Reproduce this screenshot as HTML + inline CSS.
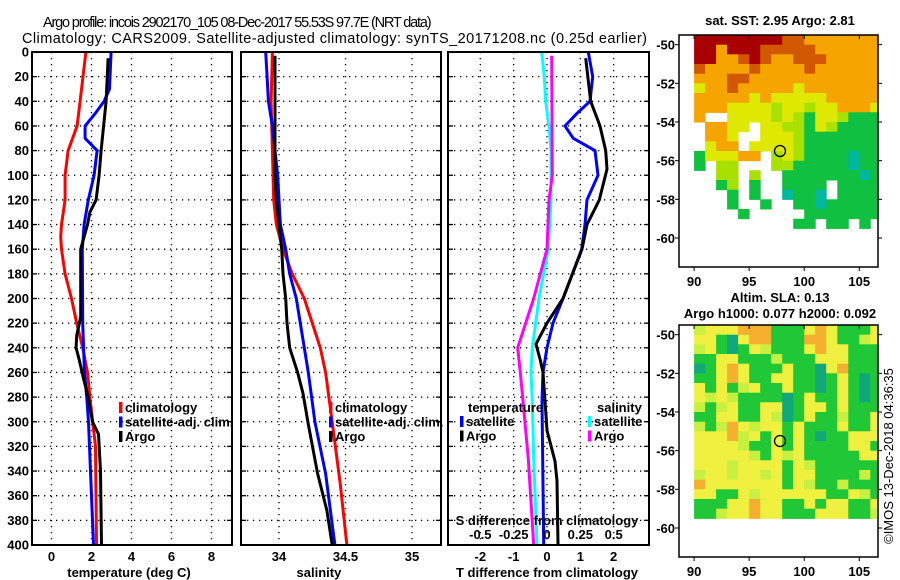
<!DOCTYPE html>
<html><head><meta charset="utf-8">
<style>
html,body{margin:0;padding:0;background:#fff;}
svg{display:block;font-family:"Liberation Sans",sans-serif;}
.t{font-size:13px;font-weight:bold;fill:#000;}
</style></head>
<body>
<svg id="fig" width="900" height="580" viewBox="0 0 900 580" xmlns="http://www.w3.org/2000/svg">
<rect width="900" height="580" fill="#fff"/>
<text x="43" y="27" font-size="14.5" letter-spacing="-1.17" fill="#000">Argo profile: incois 2902170_105 08-Dec-2017 55.53S 97.7E (NRT data)</text>
<text x="22" y="43" font-size="14.5" letter-spacing="0.43" fill="#000">Climatology: CARS2009. Satellite-adjusted climatology: synTS_20171208.nc (0.25d earlier)</text>
<g id="plots"></g>
</svg>
<script>
// ---------- data ----------
const depthTicks=[0,20,40,60,80,100,120,140,160,180,200,220,240,260,280,300,320,340,360,380,400];
const tempTicks=[0,2,4,6,8];
const salTicks=[34,34.5,35];
const tdiffTicks=[-2,-1,0,1,2];
const sdiffTicks=[-0.5,-0.25,0,0.25,0.5];
const sdiffLabels=["-0.5","-0.25","0","0.25","0.5"];

const climTD=[0,40,60,80,100,120,140,150,160,180,200,220,240,260,280,320,400];
const climT=[1.72,1.43,1.28,0.83,0.68,0.68,0.5,0.46,0.5,0.68,1.0,1.26,1.56,1.8,1.92,2.2,2.25];
const satTD=[0,30,40,50,60,70,80,100,120,140,160,220,260,280,300,400];
const satT=[2.98,2.9,2.63,2.18,1.68,1.68,2.28,2.13,1.84,1.63,1.54,1.56,1.65,1.76,1.85,2.1];
const argoTD=[5,40,80,100,120,130,140,160,215,230,240,250,265,280,300,310,340,400];
const argoT=[2.83,2.73,2.48,2.38,2.23,1.92,1.8,1.46,1.46,1.26,1.23,1.39,1.6,1.84,2.05,2.35,2.45,2.5];

const climSD=[0,40,80,120,140,160,180,200,220,240,260,300,350,400];
const climS=[33.95,33.94,33.95,33.96,33.98,34.03,34.1,34.19,34.25,34.31,34.35,34.4,34.46,34.51];
const satSD=[0,20,40,60,80,100,120,140,160,180,200,220,240,260,300,342,400];
const satS=[33.9,33.91,33.92,33.95,33.97,33.99,34.0,34.01,34.05,34.08,34.13,34.16,34.19,34.22,34.27,34.35,34.42];
const argoSD=[3,100,120,140,160,180,200,220,240,260,277,302,342,372,400];
const argoS=[33.97,33.97,33.98,34.0,34.02,34.03,34.05,34.06,34.08,34.14,34.18,34.22,34.29,34.36,34.4];

const dTsatD=[0,20,40,50,60,70,80,100,120,140,160,200,220,240,260,283,400];
const dTsat=[1.24,1.37,1.29,0.89,0.54,0.79,1.44,1.53,1.2,1.14,1.04,0.48,0.18,0,-0.12,-0.15,-0.1];
const dTargoD=[5,40,60,80,95,120,140,160,200,220,237,250,260,283,307,332,348,400];
const dTargo=[1.16,1.31,1.59,1.76,1.8,1.57,1.2,1.05,0.48,0,-0.33,-0.2,-0.12,-0.06,0,0.24,0.3,0.33];
const dSsatD=[0,20,40,60,80,120,140,160,200,240,260,283,330,400];
const dSsat=[-0.04,-0.02,-0.01,0.015,0.03,0.03,0.02,0.01,-0.06,-0.11,-0.12,-0.11,-0.1,-0.075];
const dSargoD=[3,100,120,160,180,200,220,240,260,283,330,400];
const dSargo=[0.035,0.04,0.015,0,-0.05,-0.1,-0.16,-0.22,-0.2,-0.18,-0.14,-0.1];

const lonTicks=[90,95,100,105];
const latTicks=[-50,-52,-54,-56,-58,-60];
const sstRows=[
"RRRRRRRROOooooooo",
"RRoRRROOOOOoooooo",
"RRooOROooOOOooooo",
"OooooOooooOoooooo",
"oooOOoooooooooooo",
"yooOoooooyooooooo",
"oooooyoyyyyyooooo",
"oooyyyygyygyyoooy",
"o..yyyygygGyygGGG",
".ooyy.yyggGygGGGG",
".ooy..yyygGGGGGGG",
".yoo.yyyygGGGGGGG",
"Gyyyoo.gygGGGGTGG",
"G.gg...ggGGGGGTGG",
"..gg.g..GGGGGGGTG",
"..Gg.G..GGGG.GGGG",
"...G.G..TGGT.GGGG",
"...G..G..GGTGGGGG",
"....G.....GGGGGGG",
".........GG.GG.G."];
const slaRows=[
"gyyyoooGGGyoyGGGy",
"yyGTyooGGGooyGGgy",
"gyGTGygGGGyoyyGGG",
"GGyyGGGgGGGyyyGGG",
"TGyoyGGGyGGTyoGGG",
"GGyoyGGyyGGTGyGTG",
"yGyGgyGGyGGTGyGTG",
"ygygGGGGTGyGGyGTG",
"gGgyGGyyTGyyGyGGG",
"GGyyGGygTGyGGgGGy",
"gGgoygyyGyGGGyGGy",
"yyyogyGyGyGTGGyyy",
"yyyygGGyGyGGGGyyG",
"yyyyygGygyGGGGGyy",
"yyygyyyyGygGGGGGG",
"gyygyygyGyyGGGGgG",
"oyyyyyyyGygGGgGGG",
"yyGGygyyyyyyGGygG",
"GGGyyoyyGGyGyyGGy",
"GGgyyoyyGGGyyyGGg"];
const argoLon=97.8, argoLat=-55.5;

// ---------- drawing ----------
const NS="http://www.w3.org/2000/svg";
const root=document.getElementById('plots');
function el(tag,attrs,parent){const e=document.createElementNS(NS,tag);for(const k in attrs)e.setAttribute(k,attrs[k]);(parent||root).appendChild(e);return e;}
function txt(s,x,y,anchor,cls,parent){const e=el('text',{x:x,y:y,'text-anchor':anchor||'middle','class':cls||'t'},parent);e.textContent=s;return e;}

const Y0=52,Y1=545;
function yD(d){return Y0+(Y1-Y0)*d/400;}

function panel(name,x0,x1,dmin,dmax){
  const g=el('g',{});
  
  
  return {g:g,x0:x0,x1:x1,sx:v=>x0+(x1-x0)*(v-dmin)/(dmax-dmin)};
}
function grid(p,xt){
  depthTicks.forEach(d=>{ if(d>0&&d<400){const l=el('line',{x1:p.x0,x2:p.x1,y1:yD(d),y2:yD(d),stroke:'#000','stroke-width':1.3,'stroke-dasharray':'1.3 4.7'},p.g);
    }
    el('line',{x1:p.x0,x2:p.x0+5,y1:yD(d),y2:yD(d),stroke:'#000','stroke-width':1.3},p.g);
    el('line',{x1:p.x1-5,x2:p.x1,y1:yD(d),y2:yD(d),stroke:'#000','stroke-width':1.3},p.g);});
  xt.forEach(v=>{const x=p.sx(v);const l=el('line',{x1:x,x2:x,y1:Y0,y2:Y1,stroke:'#000','stroke-width':1.3,'stroke-dasharray':'1.3 4.7'},p.g);
    });
}
function frame(p){const r=el('rect',{x:p.x0,y:Y0,width:p.x1-p.x0,height:Y1-Y0,fill:'none',stroke:'#000','stroke-width':2},p.g);
  }
function series(p,ds,vs,color,name,w){
  const pts=ds.map((d,i)=>p.sx(vs[i]).toFixed(1)+','+yD(d).toFixed(1)).join(' ');
  const l=el('polyline',{points:pts,fill:'none',stroke:color,'stroke-width':w||3,'stroke-linejoin':'round'},p.g);
  
}
function legend(p,x,y,items){
  items.forEach((it,i)=>{const yy=y+i*14.5;
    el('rect',{x:x,y:yy-10,width:3.5,height:11,fill:it[1]},p.g);
    const t=txt(it[0],x+6,yy,'start','t',p.g);
    });
}

const p1=panel('temperature-panel',32,232,-0.975,9.025);
grid(p1,tempTicks);
series(p1,climTD,climT,'#f00','climatology-temp-line');
series(p1,satTD,satT,'#00f','satellite-temp-line');
series(p1,argoTD,argoT,'#000','argo-temp-line');
frame(p1);
depthTicks.forEach(d=>{const t=txt(String(d),29,yD(d)+4.5,'end','t',p1.g);});
tempTicks.forEach(v=>{const t=txt(String(v),p1.sx(v),561,'middle','t',p1.g);});
{const t=txt('temperature (deg C)',129,577,'middle','t',p1.g);}
legend(p1,119,412,[['climatology','#f00'],['satellite-adj. clim.','#00f'],['Argo','#000']]);

const p2=panel('salinity-panel',241,441,33.714,35.218);
grid(p2,salTicks);
series(p2,climSD,climS,'#f00','climatology-sal-line');
series(p2,satSD,satS,'#00f','satellite-sal-line');
series(p2,argoSD,argoS,'#000','argo-sal-line');
legend(p2,329,412,[['climatology','#f00'],['satellite-adj. clim.','#00f'],['Argo','#000']]);
frame(p2);
salTicks.forEach(v=>{const t=txt(String(v),p2.sx(v),561,'middle','t',p2.g);});
{const t=txt('salinity',p2.sx(34.3),577,'middle','t',p2.g);}

const p3=panel('difference-panel',448,649,-2.97,3.06);
const sxS=v=>p3.sx(v*4);
grid(p3,tdiffTicks);
series(p3,dSsatD,dSsat.map(v=>v*4),'#0ff','salinity-satellite-diff-line');
series(p3,dSargoD,dSargo.map(v=>v*4),'#f0f','salinity-argo-diff-line');
series(p3,dTsatD,dTsat,'#00f','temp-satellite-diff-line');
series(p3,dTargoD,dTargo,'#000','temp-argo-diff-line');
frame(p3);
tdiffTicks.forEach(v=>{const t=txt(String(v),p3.sx(v),561,'middle','t',p3.g);});
sdiffTicks.forEach((v,i)=>{const t=txt(sdiffLabels[i],sxS(v),539,'middle','t',p3.g);});
{const t=txt('S difference from climatology',547,525,'middle','t',p3.g);}
{const t=txt('T difference from climatology',547,577,'middle','t',p3.g);}
{const t=txt('temperature',468,412,'start','t',p3.g);}
legend(p3,460,426,[['satellite','#00f'],['Argo','#000']]);
{const t=txt('salinity',597,412,'start','t',p3.g);}
legend(p3,588,426,[['satellite','#0ff'],['Argo','#f0f']]);

const sstCol={R:'#a80000',O:'#d25800',o:'#f5a400',y:'#dfe800',g:'#a8e000',G:'#10c040',T:'#00b8a0'};
const slaCol={o:'#f5b030',y:'#f0f040',g:'#c8f040',G:'#20c838',T:'#10a878'};
function map(name,top,bottom,rows,cols,title1,title2){
  const g=el('g',{});
  
  
  const x0=679,x1=878;
  const lonMin=88.63,lonMax=106.7;
  const latTopPx=top+ (bottom-top)*0.5/12;
  const pxPerLat=(bottom-top)/12;
  const sxm=lon=>x0+(x1-x0)*(lon-lonMin)/(lonMax-lonMin);
  const sym=lat=>latTopPx+(-50-lat)*pxPerLat;
  rows.forEach((r,ri)=>{for(let ci=0;ci<r.length;ci++){const c=r[ci];if(c==='.')continue;
    const lonA=90+ci, lonB=Math.min(91+ci,106.7);
    const latA=-49.5-ri*0.5;
    const cell=el('rect',{x:sxm(lonA).toFixed(1),y:sym(latA).toFixed(1),width:(sxm(lonB)-sxm(lonA)+0.5).toFixed(1),height:(pxPerLat*0.5+0.5).toFixed(1),fill:cols[c]},g);
    }});
  const fr=el('rect',{x:x0,y:top,width:x1-x0,height:bottom-top,fill:'none',stroke:'#000','stroke-width':1.5},g);
  
  lonTicks.forEach(v=>{const x=sxm(v);el('line',{x1:x,x2:x,y1:top,y2:top+4,stroke:'#000'},g);el('line',{x1:x,x2:x,y1:bottom,y2:bottom+4,stroke:'#000'},g);
    const t=txt(String(v),x,bottom+19,'middle','t',g);});
  latTicks.forEach(v=>{const y=sym(v);el('line',{x1:x0-4,x2:x0,y1:y,y2:y,stroke:'#000'},g);el('line',{x1:x1,x2:x1+4,y1:y,y2:y,stroke:'#000'},g);
    const t=txt(String(v),675,y+5,'end','t',g);});
  const c=el('circle',{cx:sxm(argoLon),cy:sym(argoLat),r:5.5,fill:'none',stroke:'#000','stroke-width':1.3},g);
  
  {const t=txt(title1,780,top-(title2?23:10),'middle','t',g);}
  if(title2){const t=txt(title2,780,top-7,'middle','t',g);}
}
map('sst-map',35,267,sstRows,sstCol,'sat. SST: 2.95 Argo: 2.81');
map('sla-map',325,557,slaRows,slaCol,'Altim. SLA: 0.13','Argo h1000: 0.077 h2000: 0.092');
{const t=el('text',{x:0,y:0,'font-size':'13px','text-anchor':'middle',transform:'translate(893,456) rotate(-90)',fill:'#000'});
 t.textContent='©IMOS 13-Dec-2018 04:36:35';
 
 }
</script>
</body></html>
